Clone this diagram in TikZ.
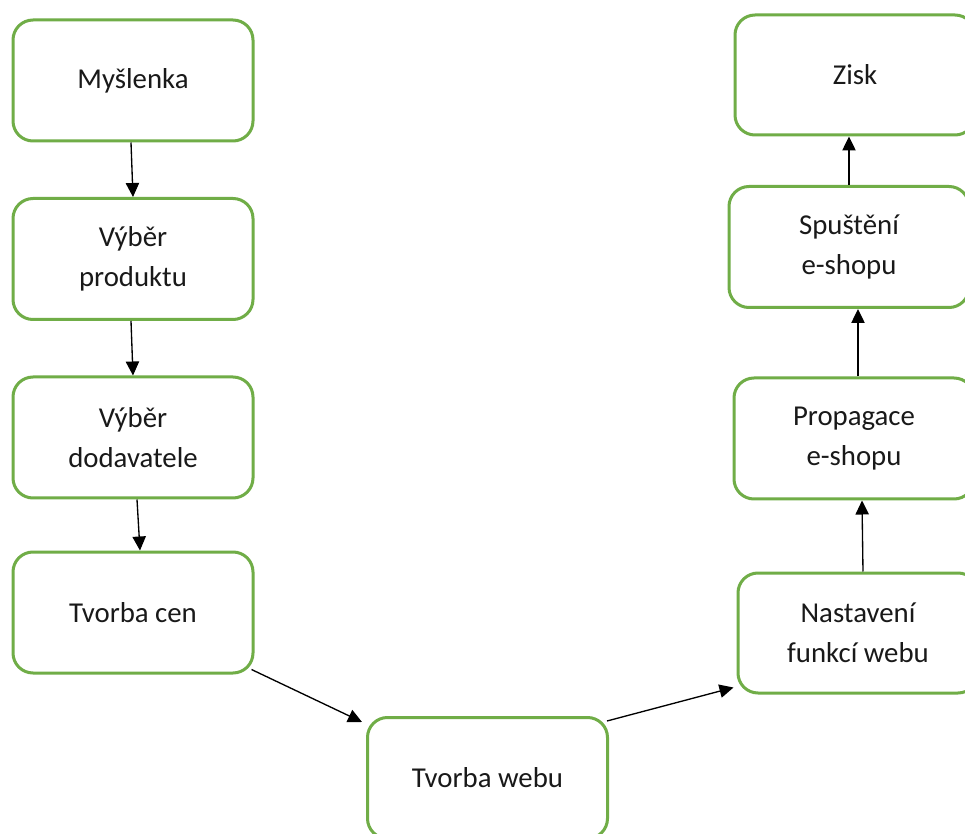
\documentclass[tikz,border=0pt]{standalone}
\usepackage{fontspec}
\setmainfont{Carlito}
\usetikzlibrary{arrows.meta,calc}
\definecolor{boxgreen}{HTML}{70AD47}
\begin{document}
\begin{tikzpicture}[x=0.75pt,y=-0.75pt,
  stepbox/.style={draw=boxgreen,line width=2.25pt,rounded corners=15pt,
    minimum width=180pt,minimum height=90.75pt,align=center,inner sep=0pt,
    font=\fontsize{21.6pt}{30pt}\selectfont,text=black!90},
  conn/.style={line width=1pt,-{Triangle[length=10.5pt,width=10pt]}}]
\useasboundingbox (0,0) rectangle (965,834);
\fill[white] (0,0) rectangle (965,834);
\clip (0,0) rectangle (965,834);
\node[stepbox] (m1) at (133,80.5) {Myšlenka};
\node[stepbox] (m2) at (133,259) {Výběr\\produktu};
\node[stepbox] (m3) at (133,437.5) {Výběr\\dodavatele};
\node[stepbox] (m4) at (133,612.5) {Tvorba cen};
\node[stepbox] (m5) at (487.5,778) {Tvorba webu};
\node[stepbox,minimum height=90pt] (r4) at (858,633) {Nastavení\\funkcí webu};
\node[stepbox] (r3) at (854,438.5) {Propagace\\e-shopu};
\node[stepbox] (r2) at (849,247) {Spuštění\\e-shopu};
\node[stepbox,minimum height=90pt] (r1) at (855,75) {Zisk};
\draw[conn] ($(m1.south)+(-2,0)$) -- ($(m2.north)+(0,0)$);
\draw[conn] ($(m2.south)+(-2,0)$) -- ($(m3.north)+(0,0)$);
\draw[conn] ($(m3.south)+(4,0)$) -- ($(m4.north)+(7,0)$);
\draw[conn] ($(m4.south east)+(-3,-5)$) -- ($(m5.north west)+(-4,6)$);
\draw[conn] ($(m5.north east)+(-2,5)$) -- ($(r4.south west)+(-3,-7)$);
\draw[conn] ($(r4.north)+(5,0)$) -- ($(r3.south)+(8,0)$);
\draw[conn] ($(r3.north)+(4,0)$) -- ($(r2.south)+(9,0)$);
\draw[conn] ($(r2.north)+(0,0)$) -- ($(r1.south)+(-6,0)$);
\end{tikzpicture}
\end{document}
